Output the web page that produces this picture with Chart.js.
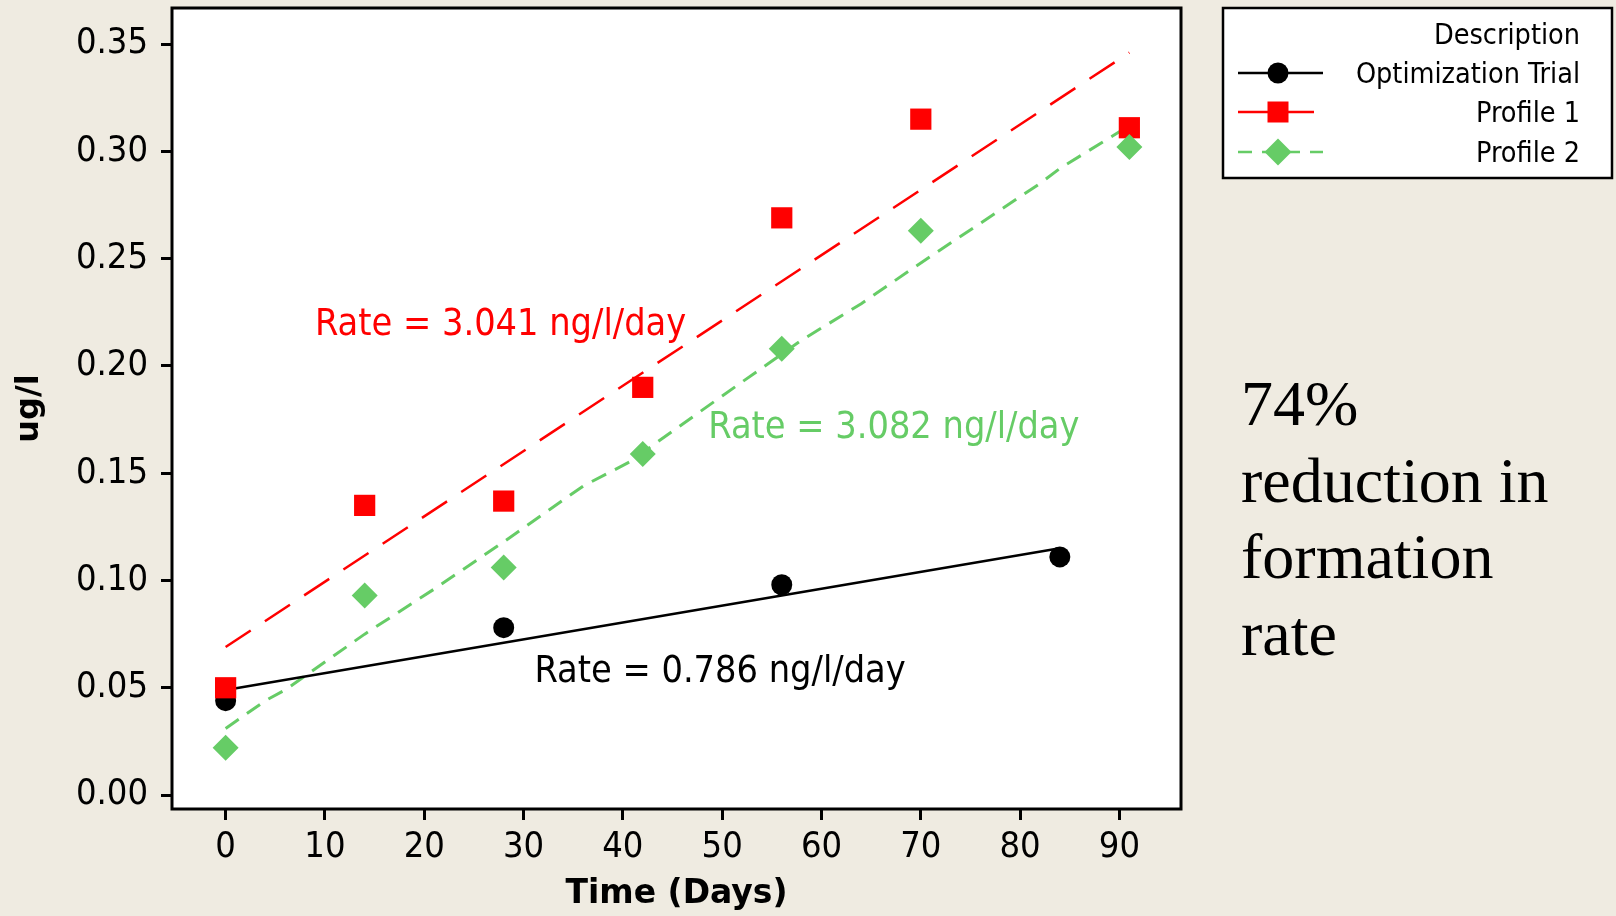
<!DOCTYPE html>
<html>
<head>
<meta charset="utf-8">
<title>Formation rate</title>
<script src="https://cdn.jsdelivr.net/npm/chart.js@4.4.0/dist/chart.umd.min.js"></script>
<style>
  html, body { margin: 0; padding: 0; background: #efebe1; }
  #wrap { position: relative; width: 1616px; height: 916px; }
</style>
</head>
<body>
<div id="wrap"><canvas id="rateChart" width="1616" height="916"></canvas></div>
<script>
// --- data (days, ug/l) ---
const trialDays = [0, 28, 56, 84];
const trialValues = [0.044, 0.078, 0.098, 0.111];
const profile1Days = [0, 14, 28, 42, 56, 70, 91];
const profile1Values = [0.050, 0.135, 0.137, 0.190, 0.269, 0.315, 0.311];
const profile2Days = [0, 14, 28, 42, 56, 70, 91];
const profile2Values = [0.022, 0.093, 0.106, 0.159, 0.208, 0.263, 0.302];

// fitted lines
const trialFitDays = [0, 84];
const trialFitValues = [0.049, 0.115];
const profile1FitDays = [0, 91];
const profile1FitValues = [0.069, 0.346];
const profile2FitDays = [0, 4, 6, 14, 21, 28, 36, 41, 43, 50, 58, 64, 70, 82, 84, 91];
const profile2FitValues = [0.031, 0.044, 0.049, 0.075, 0.096, 0.118, 0.144, 0.156, 0.163, 0.186, 0.212, 0.229, 0.248, 0.285, 0.292, 0.312];

const xTicks = [0, 10, 20, 30, 40, 50, 60, 70, 80, 90];
const yTicks = [0, 0.05, 0.10, 0.15, 0.20, 0.25, 0.30, 0.35];

const seriesNames = ['Optimization Trial', 'Profile 1', 'Profile 2'];
const rateLabels = ['Rate = 0.786 ng/l/day', 'Rate = 3.041 ng/l/day', 'Rate = 3.082 ng/l/day'];
const noteLines = ['74%', 'reduction in', 'formation', 'rate'];

const BLACK = '#000000';
const RED = '#ff0000';
const GREEN = '#66cc66';
const SANS = '"DejaVu Sans Condensed", "DejaVu Sans", sans-serif';

function pts(xs, ys) {
    return xs.map((x, i) => ({ x: x, y: ys[i] }));
}

function marker(ctx, style, x, y, r, color) {
    ctx.save();
    ctx.fillStyle = color;
    ctx.beginPath();
    if (style === 'circle') {
        ctx.arc(x, y, r, 0, Math.PI * 2);
    } else if (style === 'rect') {
        ctx.rect(x - r, y - r, r * 2, r * 2);
    } else {
        ctx.moveTo(x, y - r); ctx.lineTo(x + r, y); ctx.lineTo(x, y + r); ctx.lineTo(x - r, y);
        ctx.closePath();
    }
    ctx.fill();
    ctx.restore();
}

const decor = {
    id: 'decor',
    beforeDraw(chart) {
        const { ctx, chartArea: a } = chart;
        ctx.save();
        ctx.fillStyle = '#efebe1';
        ctx.fillRect(0, 0, chart.width, chart.height);
        ctx.fillStyle = '#ffffff';
        ctx.fillRect(a.left, a.top, a.right - a.left, a.bottom - a.top);
        ctx.restore();
    },
    afterDraw(chart) {
        const { ctx, chartArea: a, scales } = chart;
        const sx = scales.x, sy = scales.y;
        ctx.save();

        // plot frame
        ctx.strokeStyle = BLACK;
        ctx.lineWidth = 3;
        ctx.strokeRect(a.left, a.top, a.right - a.left, a.bottom - a.top);

        // rate annotations
        ctx.font = '37.5px ' + SANS;
        ctx.textBaseline = 'alphabetic';
        ctx.textAlign = 'left';
        ctx.fillStyle = BLACK;
        ctx.fillText(rateLabels[0], sx.getPixelForValue(31.1), sy.getPixelForValue(0.0528));
        ctx.fillStyle = RED;
        ctx.fillText(rateLabels[1], sx.getPixelForValue(9.0), sy.getPixelForValue(0.2143));
        ctx.fillStyle = GREEN;
        ctx.fillText(rateLabels[2], sx.getPixelForValue(48.6), sy.getPixelForValue(0.1662));

        // legend box
        const L = 1223, T = 8, R = 1612, B = 178;
        ctx.fillStyle = '#ffffff';
        ctx.fillRect(L, T, R - L, B - T);
        ctx.lineWidth = 2.5;
        ctx.strokeStyle = BLACK;
        ctx.strokeRect(L, T, R - L, B - T);

        ctx.font = '28.5px ' + SANS;
        ctx.textAlign = 'right';
        ctx.fillStyle = BLACK;
        ctx.fillText('Description', 1580, 44);
        const rows = [
            { y: 73, color: BLACK, dash: [], style: 'circle', r: 10.5, x2: 1323 },
            { y: 112, color: RED, dash: [], style: 'rect', r: 10.5, x2: 1314 },
            { y: 152, color: GREEN, dash: [14, 10], style: 'diamond', r: 13.5, x2: 1323 }
        ];
        rows.forEach((row, i) => {
            ctx.save();
            ctx.strokeStyle = row.color;
            ctx.lineWidth = 2.5;
            ctx.setLineDash(row.dash);
            ctx.beginPath();
            ctx.moveTo(1238, row.y);
            ctx.lineTo(row.x2, row.y);
            ctx.stroke();
            ctx.restore();
            marker(ctx, row.style, 1278, row.y, row.r, row.color);
            ctx.fillStyle = BLACK;
            ctx.fillText(seriesNames[i], 1580, row.y + 9.5);
        });

        // side note
        ctx.font = '64px "Liberation Serif", "Times New Roman", serif';
        ctx.textAlign = 'left';
        ctx.fillStyle = BLACK;
        noteLines.forEach((line, i) => {
            ctx.fillText(line, 1241, 425 + i * 76.7);
        });

        ctx.restore();
    }
};

const ctx = document.getElementById('rateChart').getContext('2d');
new Chart(ctx, {
    type: 'scatter',
    data: {
        datasets: [
            {
                label: seriesNames[2],
                data: pts(profile2Days, profile2Values),
                pointStyle: 'rectRot', pointRadius: 13, pointHoverRadius: 13,
                backgroundColor: GREEN, borderColor: GREEN, borderWidth: 0,
                order: 1
            },
            {
                label: seriesNames[1],
                data: pts(profile1Days, profile1Values),
                pointStyle: 'rect', pointRadius: 15, pointHoverRadius: 15,
                backgroundColor: RED, borderColor: RED, borderWidth: 0,
                order: 2
            },
            {
                label: seriesNames[0],
                data: pts(trialDays, trialValues),
                pointStyle: 'circle', pointRadius: 10.5, pointHoverRadius: 10.5,
                backgroundColor: BLACK, borderColor: BLACK, borderWidth: 0,
                order: 3
            },
            {
                label: 'Optimization Trial fit',
                data: pts(trialFitDays, trialFitValues),
                showLine: true, pointRadius: 0,
                borderColor: BLACK, borderWidth: 2.5,
                order: 4
            },
            {
                label: 'Profile 1 fit',
                data: pts(profile1FitDays, profile1FitValues),
                showLine: true, pointRadius: 0,
                borderColor: RED, borderWidth: 2.5, borderDash: [30, 17],
                order: 5
            },
            {
                label: 'Profile 2 fit',
                data: pts(profile2FitDays, profile2FitValues),
                showLine: true, pointRadius: 0,
                borderColor: GREEN, borderWidth: 3, borderDash: [16, 10],
                order: 6
            }
        ]
    },
    options: {
        responsive: false,
        animation: false,
        devicePixelRatio: 1,
        layout: { autoPadding: false, padding: { top: 8, right: 435, left: 0, bottom: 0 } },
        plugins: {
            legend: { display: false },
            tooltip: { enabled: false }
        },
        scales: {
            x: {
                type: 'linear',
                min: -5.4,
                max: 96.2,
                afterBuildTicks: s => { s.ticks = xTicks.map(v => ({ value: v })); },
                afterFit: s => { s.height = 107; },
                grid: { drawOnChartArea: false, drawTicks: true, tickLength: 11, tickWidth: 3, tickColor: BLACK },
                border: { display: false },
                ticks: {
                    autoSkip: false, maxRotation: 0, padding: 6,
                    color: BLACK, font: { family: SANS, size: 36 },
                    callback: v => String(v)
                },
                title: {
                    display: true, text: 'Time (Days)', color: BLACK,
                    font: { family: '"DejaVu Sans", sans-serif', size: 33, weight: 'bold' },
                    padding: { top: 0, bottom: 2 }
                }
            },
            y: {
                type: 'linear',
                min: -0.0065,
                max: 0.3668,
                afterBuildTicks: s => { s.ticks = yTicks.map(v => ({ value: v })); },
                afterFit: s => { s.width = 172; s.paddingTop = 0; s.paddingBottom = 0; },
                grid: { drawOnChartArea: false, drawTicks: true, tickLength: 11, tickWidth: 3, tickColor: BLACK },
                border: { display: false },
                ticks: {
                    autoSkip: false, padding: 13,
                    color: BLACK, font: { family: SANS, size: 36 },
                    callback: v => v.toFixed(2)
                },
                title: {
                    display: true, text: 'ug/l', color: BLACK,
                    font: { family: '"DejaVu Sans", sans-serif', size: 32, weight: 'bold' },
                    padding: { top: 10, bottom: 0 }
                }
            }
        }
    },
    plugins: [decor]
});
</script>
</body>
</html>
